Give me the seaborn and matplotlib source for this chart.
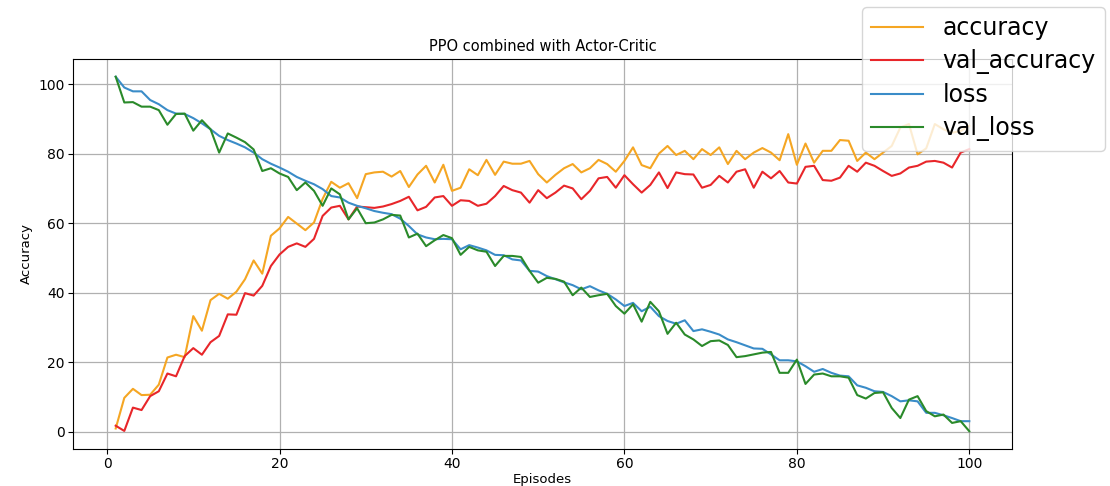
import numpy as np
import pandas as pd
import matplotlib
matplotlib.use("Agg")
import matplotlib.pyplot as plt
import seaborn as sns

episodes = list(range(1, 101))

accuracy = [1.0, 9.8, 12.4, 10.6, 10.7, 13.6, 21.4, 22.2, 21.5, 33.3,
            29.1, 37.9, 39.7, 38.3, 40.3, 43.9, 49.3, 45.5, 56.4, 58.5,
            61.8, 59.9, 58.0, 60.2, 67.0, 71.9, 70.2, 71.5, 67.2, 74.1,
            74.6, 74.8, 73.4, 75.0, 70.4, 74.0, 76.5, 71.7, 76.8, 69.3,
            70.2, 75.5, 73.8, 78.2, 73.9, 77.7, 77.1, 77.1, 77.9, 74.1,
            71.7, 73.9, 75.8, 77.0, 74.6, 75.8, 78.2, 77.0, 74.8, 77.9,
            81.8, 76.7, 75.8, 80.0, 82.2, 79.6, 80.8, 78.4, 81.3, 79.6,
            81.8, 77.0, 80.8, 78.4, 80.3, 81.6, 80.3, 78.1, 85.6, 76.8,
            82.9, 77.4, 80.8, 80.8, 83.9, 83.7, 77.9, 80.3, 78.4, 80.3,
            82.2, 87.5, 88.5, 79.8, 81.5, 88.5, 87.0, 86.0, 86.5, 88.0]

val_accuracy = [1.8, 0.3, 7.0, 6.3, 10.3, 11.7, 16.8, 16.0, 21.8, 24.1,
                22.2, 25.8, 27.6, 33.8, 33.7, 39.9, 39.2, 42.0, 47.7, 51.0,
                53.2, 54.2, 53.2, 55.5, 62.1, 64.5, 65.0, 61.1, 64.8, 64.6,
                64.4, 64.8, 65.5, 66.4, 67.6, 63.7, 64.7, 67.4, 67.8, 65.0,
                66.6, 66.4, 65.0, 65.6, 67.8, 70.7, 69.5, 68.8, 65.9, 69.5,
                67.2, 68.8, 70.8, 70.0, 66.9, 69.3, 72.9, 73.3, 70.2, 73.8,
                71.2, 68.8, 71.0, 74.6, 70.1, 74.6, 74.1, 74.0, 70.2, 71.0,
                73.6, 71.7, 74.8, 75.5, 70.2, 74.8, 72.9, 75.0, 71.7, 71.4,
                76.2, 76.5, 72.4, 72.2, 73.1, 76.5, 74.8, 77.4, 76.5, 75.0,
                73.6, 74.3, 76.0, 76.5, 77.7, 77.9, 77.4, 76.0, 80.3, 81.3]

loss = [102.1, 99.0, 97.9, 97.9, 95.4, 94.2, 92.5, 91.5, 91.4, 90.2,
        88.7, 87.0, 85.1, 83.9, 82.9, 81.8, 80.3, 78.4, 77.1, 76.0,
        74.8, 73.3, 72.2, 71.2, 69.8, 67.8, 67.4, 65.9, 65.0, 64.3,
        63.5, 63.0, 62.6, 61.3, 59.2, 56.8, 55.9, 55.4, 55.5, 55.4,
        52.5, 53.7, 53.0, 52.2, 50.9, 50.8, 49.6, 49.3, 46.3, 46.1,
        44.8, 43.9, 43.0, 42.2, 41.0, 41.9, 40.7, 39.7, 38.1, 36.2,
        37.1, 34.7, 36.0, 33.3, 31.9, 31.1, 32.1, 29.0, 29.5, 28.8,
        28.0, 26.6, 25.8, 24.9, 24.0, 23.9, 22.3, 20.6, 20.6, 20.3,
        18.9, 17.3, 18.1, 17.0, 16.2, 16.0, 13.4, 12.7, 11.7, 11.5,
        10.3, 8.8, 9.1, 8.8, 5.5, 5.5, 4.8, 4.0, 3.1, 3.1]

val_loss = [102.1, 94.7, 94.8, 93.5, 93.5, 92.5, 88.3, 91.4, 91.5, 86.6,
            89.6, 87.0, 80.3, 85.8, 84.6, 83.3, 81.2, 75.0, 75.8, 74.3,
            73.3, 69.5, 71.7, 69.3, 65.0, 70.0, 68.3, 61.1, 64.3, 60.0,
            60.2, 61.1, 62.4, 62.2, 55.9, 57.0, 53.4, 55.1, 56.6, 55.7,
            50.9, 53.2, 52.2, 51.8, 47.7, 50.6, 50.6, 50.3, 46.3, 42.9,
            44.3, 44.0, 43.2, 39.3, 41.5, 38.8, 39.3, 39.7, 36.2, 34.0,
            36.7, 31.7, 37.4, 34.7, 28.2, 31.4, 28.0, 26.6, 24.7, 26.1,
            26.3, 25.0, 21.5, 21.8, 22.3, 22.8, 23.0, 17.0, 17.0, 20.8,
            13.8, 16.5, 16.8, 16.0, 16.0, 15.6, 10.6, 9.6, 11.2, 11.4,
            6.9, 4.0, 9.3, 10.3, 6.0, 4.5, 5.0, 2.6, 3.1, 0.2]

series_names = ["accuracy", "val_accuracy", "loss", "val_loss"]
series_colors = ["#f5a623", "#e8262a", "#3a8cc8", "#2a8a2a"]

df = pd.DataFrame({
    "Episodes": episodes * 4,
    "value": accuracy + val_accuracy + loss + val_loss,
    "series": [n for n in series_names for _ in episodes],
})

fig = plt.figure(figsize=(11.1, 4.86), dpi=100)
ax = fig.add_axes([73 / 1110, 1 - 449 / 486, (1012 - 73) / 1110, (449 - 59) / 486])

sns.lineplot(data=df, x="Episodes", y="value", hue="series",
             hue_order=series_names,
             palette=dict(zip(series_names, series_colors)),
             linewidth=1.5, ax=ax, legend=False)

ax.grid(True, color="#b0b0b0", linewidth=0.9)
ax.set_axisbelow(True)
ax.set_title("PPO combined with Actor-Critic", fontsize=10.5)
ax.set_xlabel("Episodes", fontsize=9.5, labelpad=1)
ax.set_ylabel("Accuracy", fontsize=9.5)
ax.tick_params(labelsize=10, pad=2.5)
ax.margins(x=0.05, y=0.05)

handles = [plt.Line2D([], [], color=c, linewidth=1.5) for c in series_colors]
fig.legend(handles, series_names, loc="upper left",
           bbox_to_anchor=(862 / 1110, 1 - 7 / 486),
           borderaxespad=0,
           fontsize=17, labelspacing=0.38, handlelength=2.2,
           framealpha=0.8)

fig.savefig("out.png", dpi=100)
